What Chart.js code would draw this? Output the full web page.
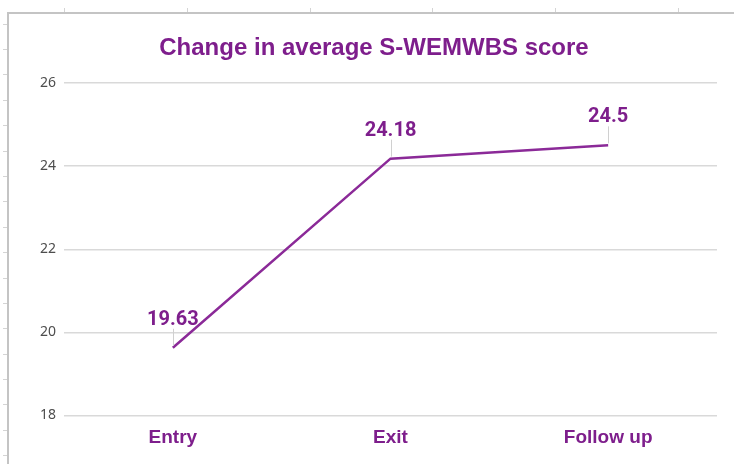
<!DOCTYPE html>
<html>
<head>
<meta charset="utf-8">
<script src="https://cdn.jsdelivr.net/npm/chart.js@4.4.0/dist/chart.umd.min.js"></script>
<style>
  html, body { margin: 0; padding: 0; background: #fff; overflow: hidden; }
  #wrap { position: relative; width: 734px; height: 464px; }
</style>
</head>
<body>
<div id="wrap"><canvas id="chart" width="734" height="464"></canvas></div>
<script>
// Chart data
const categories = ["Entry", "Exit", "Follow up"];
const scores = [19.63, 24.18, 24.5];
const yTicks = [18, 20, 22, 24, 26];
const chartTitle = "Change in average S-WEMWBS score";

const PURPLE = "#7e1e8c";
const LINE = "#8b2a98";

// spreadsheet-ish frame behind the chart (cell border + row/column marks)
const sheetFrame = {
  id: "sheetFrame",
  beforeDraw(chart) {
    const ctx = chart.ctx;
    ctx.save();
    ctx.strokeStyle = "#c4c4c4";
    ctx.lineWidth = 2;
    ctx.beginPath();
    ctx.moveTo(8, 464);
    ctx.lineTo(8, 13);
    ctx.lineTo(734, 13);
    ctx.stroke();
    ctx.strokeStyle = "#d4d4d4";
    ctx.lineWidth = 1;
    ctx.beginPath();
    for (let y = 23.5; y < 464; y += 25.4) {
      ctx.moveTo(3, Math.round(y) + 0.5);
      ctx.lineTo(7, Math.round(y) + 0.5);
    }
    for (let x = 64; x < 734; x += 122.8) {
      ctx.moveTo(Math.round(x) + 0.5, 8);
      ctx.lineTo(Math.round(x) + 0.5, 12);
    }
    ctx.stroke();

    // title, centred on the chart box rather than the plot
    ctx.fillStyle = PURPLE;
    ctx.font = "bold 24px 'Liberation Sans'";
    ctx.textAlign = "center";
    ctx.textBaseline = "middle";
    ctx.fillText(chartTitle, 374, 48);
    ctx.restore();
  }
};

// value labels above each point with a small leader line
const pointLabels = {
  id: "pointLabels",
  afterDatasetsDraw(chart) {
    const ctx = chart.ctx;
    const meta = chart.getDatasetMeta(0);
    ctx.save();
    meta.data.forEach((pt, i) => {
      ctx.strokeStyle = "#d0d0d0";
      ctx.lineWidth = 1;
      ctx.beginPath();
      ctx.moveTo(Math.round(pt.x) + 0.5, pt.y - 19);
      ctx.lineTo(Math.round(pt.x) + 0.5, pt.y - 2);
      ctx.stroke();
      ctx.fillStyle = PURPLE;
      ctx.font = "bold 20px Roboto";
      ctx.textAlign = "center";
      ctx.textBaseline = "middle";
      ctx.fillText(String(scores[i]), pt.x, pt.y - 28);
    });
    ctx.restore();
  }
};

new Chart(document.getElementById("chart"), {
  type: "line",
  data: {
    labels: categories,
    datasets: [{
      data: scores,
      borderColor: LINE,
      borderWidth: 2.5,
      pointRadius: 0,
      tension: 0,
      fill: false
    }]
  },
  options: {
    responsive: false,
    animation: false,
    layout: { padding: { left: 8, right: 17, top: 83, bottom: 0 } },
    plugins: {
      legend: { display: false },
      tooltip: { enabled: false },
      title: { display: false }
    },
    scales: {
      x: {
        offset: true,
        grid: { display: false },
        border: { display: false },
        ticks: {
          color: PURPLE,
          padding: 3,
          font: { family: "Liberation Sans", size: 19, weight: "bold" }
        },
        afterFit(scale) { scale.height = 48.5; }
      },
      y: {
        min: yTicks[0],
        max: yTicks[yTicks.length - 1],
        grid: { color: "#d9d9d9", lineWidth: 1.5, drawTicks: false },
        border: { display: false },
        afterBuildTicks(scale) { scale.ticks = yTicks.map(v => ({ value: v })); },
        ticks: {
          color: "#4d4d4d",
          padding: 8,
          font: { family: "Noto Sans", size: 14 }
        },
        afterFit(scale) { scale.width = 56; }
      }
    }
  },
  plugins: [sheetFrame, pointLabels]
});
</script>
</body>
</html>
